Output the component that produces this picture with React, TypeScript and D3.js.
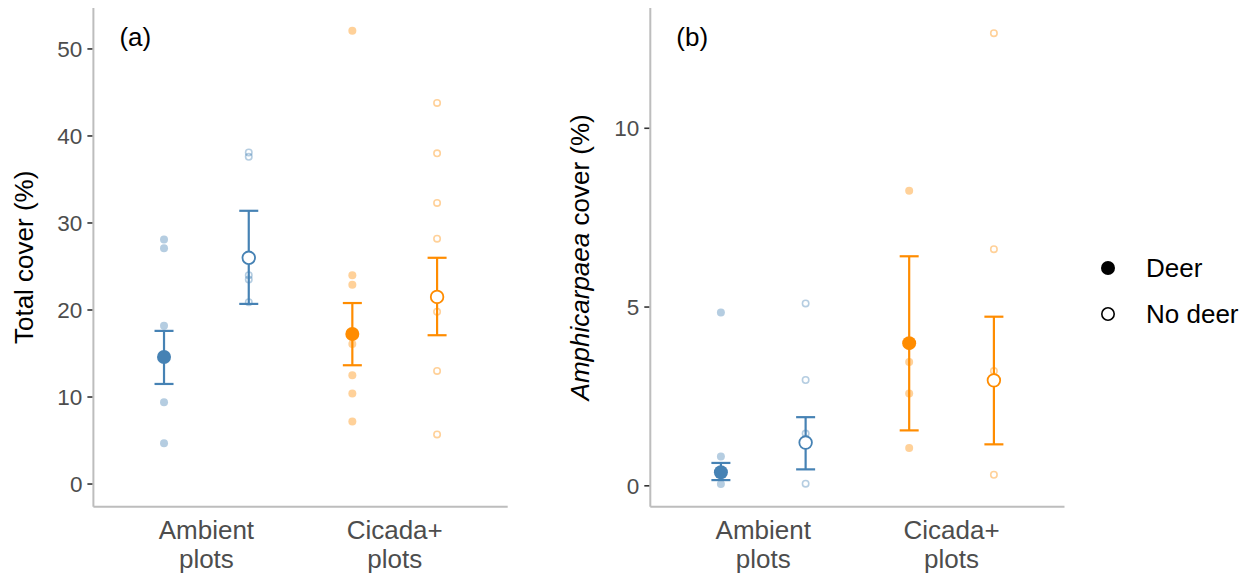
import React from "react";
import * as d3 from "d3";

// Plot categories and treatments
const sites = ["Ambient plots", "Cicada+ plots"];
const treatments = ["Deer", "No deer"];
const siteColors = ["#4682B4", "#FF8C00"];

// (a) Total cover (%) — individual plots
const totalAmbientDeer = [28.1, 27.1, 18.2, 9.4, 4.7];
const totalAmbientNoDeer = [38.1, 37.6, 24.0, 23.5, 20.9];
const totalCicadaDeer = [52.1, 24.0, 22.9, 16.1, 12.5, 10.4, 7.2];
const totalCicadaNoDeer = [43.8, 38.0, 32.3, 28.2, 19.8, 13.0, 5.7];
// (a) means and error bar bounds, order: AD, AN, CD, CN
const totalMean = [14.6, 26.0, 17.25, 21.5];
const totalLow = [11.5, 20.7, 13.65, 17.1];
const totalHigh = [17.6, 31.4, 20.8, 26.0];
const totalTicks = [0, 10, 20, 30, 40, 50];
const totalLimits = [0, 52.1];

// (b) Amphicarpaea cover (%) — individual plots
const amphAmbientDeer = [4.85, 0.82, 0.05];
const amphAmbientNoDeer = [5.1, 2.96, 1.46, 0.06];
const amphCicadaDeer = [8.25, 3.46, 2.58, 1.06];
const amphCicadaNoDeer = [12.66, 6.62, 3.21, 0.31];
const amphMean = [0.38, 1.21, 3.99, 2.95];
const amphLow = [0.16, 0.46, 1.55, 1.16];
const amphHigh = [0.64, 1.92, 6.42, 4.73];
const amphTicks = [0, 5, 10];
const amphLimits = [0.05, 12.73];

const FONT = "'Liberation Sans', Arial, Helvetica, sans-serif";
const TICK_SIZE = 22.5;
const LABEL_SIZE = 26;

type PanelProps = {
  left: number;
  right: number;
  top: number;
  bottom: number;
  raw: number[][];
  mean: number[];
  low: number[];
  high: number[];
  ticks: number[];
  limits: number[];
  tag: string;
  title: React.ReactNode;
  titleX: number;
};

function Panel({ left, right, top, bottom, raw, mean, low, high, ticks, limits, tag, title, titleX }: PanelProps) {
  const [lo, hi] = limits;
  const pad = (hi - lo) * 0.05;
  const y = d3.scaleLinear().domain([lo - pad, hi + pad]).range([bottom, top]);
  // discrete x with 0.6 expansion on each side
  const x = d3.scaleLinear().domain([0.4, 2.6]).range([left, right]);
  const dodge = 0.225;
  const xOf = (i: number) => {
    const site = Math.floor(i / 2);
    const trt = i % 2;
    return x(site + 1 + (trt === 0 ? -dodge : dodge));
  };
  const capHalf = 9.5;

  return (
    <g>
      {/* axes */}
      <line x1={left} x2={left} y1={top} y2={bottom} stroke="#bdbdbd" strokeWidth={2} />
      <line x1={left} x2={right} y1={bottom} y2={bottom} stroke="#bdbdbd" strokeWidth={2} />
      {ticks.map((t) => (
        <g key={t}>
          <line x1={left - 6} x2={left - 1} y1={y(t)} y2={y(t)} stroke="#333" strokeWidth={1.6} />
          <text x={left - 11} y={y(t)} dy="0.36em" textAnchor="end" fontSize={TICK_SIZE} fill="#4d4d4d" fontFamily={FONT}>
            {t}
          </text>
        </g>
      ))}
      {sites.map((s, i) => {
        const [a, b] = s.split(" ");
        return (
          <text key={s} x={x(i + 1)} y={bottom + 32} textAnchor="middle" fontSize={LABEL_SIZE} fill="#4d4d4d" fontFamily={FONT}>
            <tspan x={x(i + 1)}>{a}</tspan>
            <tspan x={x(i + 1)} dy={29}>{b}</tspan>
          </text>
        );
      })}
      <text
        transform={`translate(${titleX},${(top + bottom) / 2}) rotate(-90)`}
        textAnchor="middle"
        fontSize={LABEL_SIZE}
        fill="#000"
        fontFamily={FONT}
      >
        {title}
      </text>
      <text x={left + 26} y={top + 38} fontSize={LABEL_SIZE} fill="#000" fontFamily={FONT}>
        {tag}
      </text>

      {/* individual plots */}
      {raw.map((vals, i) => {
        const c = siteColors[Math.floor(i / 2)];
        const open = i % 2 === 1;
        return vals.map((v, j) => (
          <circle
            key={`${i}-${j}`}
            cx={xOf(i)}
            cy={y(v)}
            r={open ? 3.2 : 4}
            fill={open ? "none" : c}
            fillOpacity={open ? 0 : 0.4}
            stroke={open ? c : "none"}
            strokeOpacity={0.4}
            strokeWidth={1.6}
          />
        ));
      })}

      {/* means with error bars */}
      {mean.map((m, i) => {
        const c = siteColors[Math.floor(i / 2)];
        const open = i % 2 === 1;
        const cx = xOf(i);
        return (
          <g key={`m${i}`}>
            <line x1={cx} x2={cx} y1={y(low[i])} y2={y(high[i])} stroke={c} strokeWidth={2.2} />
            <line x1={cx - capHalf} x2={cx + capHalf} y1={y(low[i])} y2={y(low[i])} stroke={c} strokeWidth={2.2} />
            <line x1={cx - capHalf} x2={cx + capHalf} y1={y(high[i])} y2={y(high[i])} stroke={c} strokeWidth={2.2} />
            <circle
              cx={cx}
              cy={y(m)}
              r={open ? 6.3 : 7}
              fill={open ? "#fff" : c}
              stroke={c}
              strokeWidth={open ? 1.8 : 0}
            />
          </g>
        );
      })}
    </g>
  );
}

export default function App() {
  const totalRaw = [totalAmbientDeer, totalAmbientNoDeer, totalCicadaDeer, totalCicadaNoDeer];
  const amphRaw = [amphAmbientDeer, amphAmbientNoDeer, amphCicadaDeer, amphCicadaNoDeer];
  return (
    <div style={{ position: "absolute", left: 0, top: 0 }}>
      <svg width={1252} height={577} style={{ display: "block", background: "#fff" }}>
        <Panel
          left={93.4}
          right={507.7}
          top={8}
          bottom={506.7}
          raw={totalRaw}
          mean={totalMean}
          low={totalLow}
          high={totalHigh}
          ticks={totalTicks}
          limits={totalLimits}
          tag="(a)"
          title="Total cover (%)"
          titleX={33}
        />
        <Panel
          left={650.3}
          right={1064.5}
          top={8}
          bottom={506.7}
          raw={amphRaw}
          mean={amphMean}
          low={amphLow}
          high={amphHigh}
          ticks={amphTicks}
          limits={amphLimits}
          tag="(b)"
          title={
            <>
              <tspan fontStyle="italic">Amphicarpaea</tspan> cover (%)
            </>
          }
          titleX={589}
        />
        {/* legend */}
        {treatments.map((t, i) => (
          <g key={t}>
            <circle
              cx={1108}
              cy={268 + i * 46}
              r={i === 0 ? 7 : 6.2}
              fill={i === 0 ? "#000" : "#fff"}
              stroke="#000"
              strokeWidth={i === 0 ? 0 : 1.6}
            />
            <text x={1146} y={268 + i * 46} dy="0.36em" fontSize={LABEL_SIZE} fill="#000" fontFamily={FONT}>
              {t}
            </text>
          </g>
        ))}
      </svg>
    </div>
  );
}
